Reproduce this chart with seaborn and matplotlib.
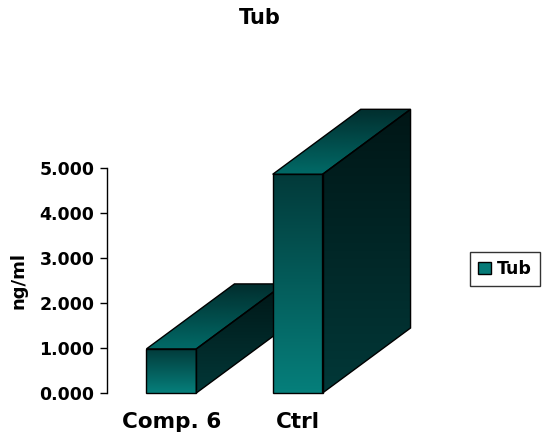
import numpy as np
import pandas as pd
import matplotlib
matplotlib.use("Agg")
import matplotlib.pyplot as plt
import seaborn as sns
from matplotlib.patches import Polygon, Patch
from matplotlib.colors import LinearSegmentedColormap

# ---- data ----
categories = ["Comp. 6", "Ctrl"]
values = [0.98, 4.86]
series_name = "Tub"
title = "Tub"
y_label = "ng/ml"
yticks = [0, 1, 2, 3, 4, 5]
ytick_labels = ["0.000", "1.000", "2.000", "3.000", "4.000", "5.000"]

sns.set_theme(style="white")
plt.rcParams['font.family'] = ['DejaVu Sans']
plt.rcParams.update({"text.color": "black", "axes.labelcolor": "black",
                     "xtick.color": "black", "ytick.color": "black"})

W, H = 550, 440
fig = plt.figure(figsize=(W / 100, H / 100), dpi=100)
ax = fig.add_axes([107 / W, 1 - 393 / H, (362 - 107) / W, (393 - 168) / H])

df = pd.DataFrame({"cat": categories, "val": values})
sns.barplot(data=df, x="cat", y="val", ax=ax, width=0.395,
            color="#007b78", saturation=1, errorbar=None)
ax.set_xlim(-0.51, 1.51)
ax.set_ylim(0, 5)

# depth offset in pixels -> data units
p0 = ax.transData.transform((0, 0))
p1 = ax.transData.transform((1, 1))
ppx, ppy = p1[0] - p0[0], p1[1] - p0[1]
dx, dy = 88 / ppx, 65 / ppy

front_cmap = LinearSegmentedColormap.from_list("f", ["#067f7b", "#023a3a"])
side_cmap = LinearSegmentedColormap.from_list("s", ["#023838", "#001616"])
top_cmap = LinearSegmentedColormap.from_list("t", ["#016a67", "#012e2e"])
grad = np.linspace(0, 1, 256).reshape(-1, 1)


def face(pts, cmap, z):
    pts = np.array(pts)
    poly = Polygon(pts, closed=True, facecolor="none", edgecolor="black",
                   linewidth=1.0, zorder=z + 0.5, clip_on=False,
                   transform=ax.transData)
    ax.add_patch(poly)
    im = ax.imshow(grad, cmap=cmap, origin="lower", aspect="auto",
                   extent=(pts[:, 0].min(), pts[:, 0].max(),
                           pts[:, 1].min(), pts[:, 1].max()),
                   zorder=z, interpolation="bilinear")
    im.set_clip_path(poly)
    im.set_clip_box(fig.bbox)


bars = list(ax.patches)
for i, b in enumerate(bars):
    x0, w, h = b.get_x(), b.get_width(), b.get_height()
    x1 = x0 + w
    b.set_visible(False)
    z = 3 + i * 3
    face([(x0, 0), (x1, 0), (x1, h), (x0, h)], front_cmap, z)
    face([(x0, h), (x1, h), (x1 + dx, h + dy), (x0 + dx, h + dy)], top_cmap, z)
    face([(x1, 0), (x1 + dx, dy), (x1 + dx, h + dy), (x1, h)], side_cmap, z)

ax.set_xlim(-0.51, 1.51)
ax.set_ylim(0, 5)

for s in ["top", "right", "bottom"]:
    ax.spines[s].set_visible(False)
ax.spines["left"].set_color("black")
ax.spines["left"].set_linewidth(1.0)

ax.set_yticks(yticks)
ax.set_yticklabels(ytick_labels, fontsize=12.5, fontweight="bold")
ax.tick_params(axis="y", left=True, length=5, width=1, color="black", pad=4)
ax.tick_params(axis="x", bottom=False, length=0, pad=14)
ax.set_xticks(range(len(categories)))
ax.set_xticklabels(categories, fontsize=15.5, fontweight="bold")
ax.set_xlabel("")
ax.set_ylabel(y_label, fontsize=13, fontweight="bold", va="center")
ax.yaxis.set_label_coords(-0.349, 0.5)

fig.suptitle(title, x=259.5 / W, y=1 - 18 / H, va="center",
             fontsize=15, fontweight="bold")

handle = Patch(facecolor="#067a77", edgecolor="black", label=series_name)
leg = fig.legend(handles=[handle], loc="center",
                 bbox_to_anchor=(505 / W, 1 - 269 / H),
                 frameon=True, fancybox=False, edgecolor="black",
                 prop={"weight": "bold", "size": 12.5},
                 handlelength=0.75, handleheight=0.75, handletextpad=0.35,
                 borderpad=0.45)
leg.get_frame().set_linewidth(1.0)

fig.savefig("out.png", dpi=100)
